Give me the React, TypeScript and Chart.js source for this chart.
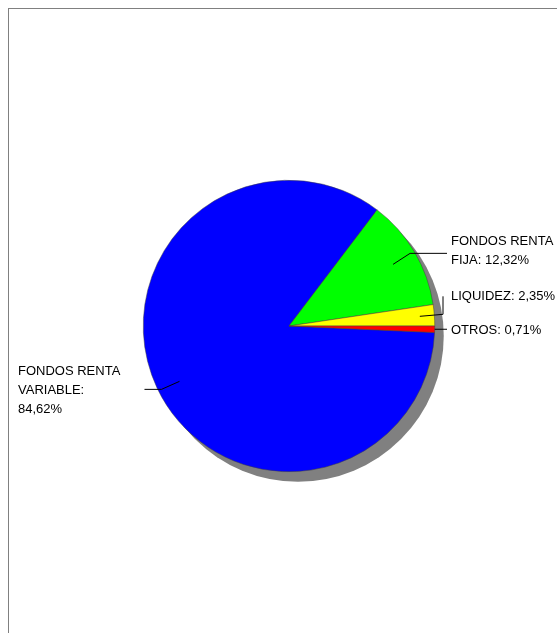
import { useEffect, useRef } from 'react';
import { Chart, registerables } from 'chart.js';

Chart.register(...registerables);

const categories = ['FONDOS RENTA VARIABLE', 'FONDOS RENTA FIJA', 'LIQUIDEZ', 'OTROS'];
const values = [84.62, 12.32, 2.35, 0.71];
const colors = ['#0000ff', '#00ff00', '#ffff00', '#ff0000'];
const labelLines = [['FONDOS RENTA', 'VARIABLE:', '84,62%'], ['FONDOS RENTA', 'FIJA: 12,32%'], ['LIQUIDEZ: 2,35%'], ['OTROS: 0,71%']];

const shadowPlugin = {
  id: 'shadow',
  beforeDatasetsDraw(chart: any) {
    const arc = chart.getDatasetMeta(0).data[0];
    if (!arc) return;
    const ctx = chart.ctx;
    ctx.save();
    ctx.fillStyle = '#808080';
    ctx.beginPath();
    ctx.arc(arc.x + 9, arc.y + 10, arc.outerRadius, 0, Math.PI * 2);
    ctx.fill();
    ctx.restore();
  },
};

const labelPlugin = {
  id: 'sliceLabels',
  afterDatasetsDraw(chart: any) {
    const ctx = chart.ctx;
    const arcs = chart.getDatasetMeta(0).data;
    ctx.save();
    ctx.font = '13px "Liberation Sans", Arial, sans-serif';
    ctx.fillStyle = '#000';
    ctx.strokeStyle = '#000';
    ctx.lineWidth = 1;
    ctx.textBaseline = 'middle';
    ctx.textAlign = 'left';
    arcs.forEach((arc: any, i: number) => {
      const mid = (arc.startAngle + arc.endAngle) / 2;
      const r = arc.outerRadius;
      const lines = labelLines[i];
      ctx.beginPath();
      if (i === 0) {
        const sx = arc.x + Math.cos(mid) * r * 0.83;
        const sy = arc.y + Math.sin(mid) * r * 0.83 + 4;
        ctx.moveTo(sx, sy);
        ctx.lineTo(sx - 18, sy + 8);
        ctx.lineTo(sx - 35, sy + 8);
        ctx.stroke();
        lines.forEach((t, k) => ctx.fillText(t, 18, sy - 10 + k * 19));
      } else if (i === 1) {
        const sx = arc.x + Math.cos(mid) * r * 0.83;
        const sy = arc.y + Math.sin(mid) * r * 0.83;
        ctx.moveTo(sx, sy);
        ctx.lineTo(sx + 17, sy - 11);
        ctx.lineTo(447, sy - 11);
        ctx.stroke();
        lines.forEach((t, k) => ctx.fillText(t, 451, sy - 23 + k * 19));
      } else if (i === 2) {
        const sx = arc.x + Math.cos(mid) * r * 0.9;
        const sy = arc.y + Math.sin(mid) * r * 0.9;
        ctx.moveTo(sx, sy);
        ctx.lineTo(443, sy - 2);
        ctx.lineTo(443, sy - 20);
        ctx.stroke();
        ctx.fillText(lines[0], 451, sy - 20);
      } else {
        const sx = arc.x + Math.cos(mid) * r;
        const sy = arc.y + Math.sin(mid) * r;
        ctx.moveTo(sx, sy);
        ctx.lineTo(447, sy);
        ctx.stroke();
        ctx.fillText(lines[0], 451, sy + 1);
      }
    });
    ctx.restore();
  },
};

export default function App() {
  const canvasRef = useRef<HTMLCanvasElement>(null);

  useEffect(() => {
    if (!canvasRef.current) return;
    const chart = new Chart(canvasRef.current, {
      type: 'pie',
      data: {
        labels: categories,
        datasets: [{
          data: values,
          backgroundColor: colors,
          borderColor: '#404040',
          borderWidth: 0.5,
        }],
      },
      options: {
        animation: false,
        responsive: false,
        rotation: 90 + (values[3] / 100) * 360,
        layout: { padding: { left: 143, right: 122, top: 180, bottom: 161 } },
        plugins: { legend: { display: false }, tooltip: { enabled: false } },
      },
      plugins: [shadowPlugin, labelPlugin],
    });
    return () => chart.destroy();
  }, []);

  return (
    <div style={{ position: 'fixed', left: 0, top: 0, width: 557, height: 633, overflow: 'hidden', background: '#fff' }}>
      <div style={{ position: 'absolute', left: 8, top: 8, width: 600, height: 700, border: '1px solid #808080' }} />
      <canvas ref={canvasRef} width={557} height={633} style={{ position: 'absolute', left: 0, top: 0 }} />
    </div>
  );
}
